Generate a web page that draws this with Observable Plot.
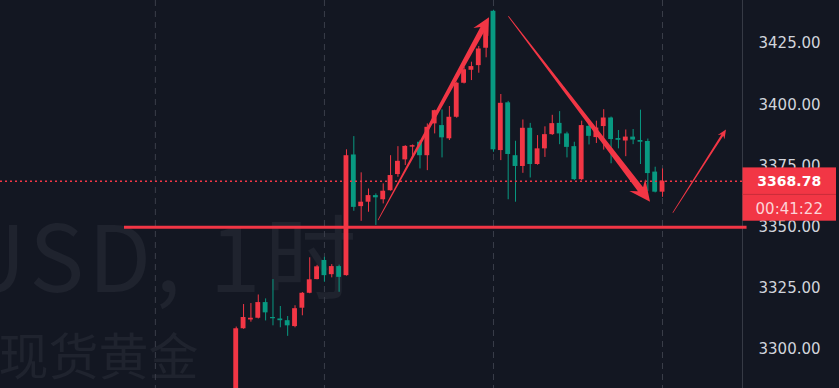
<!DOCTYPE html>
<html><head><meta charset="utf-8">
<script src="https://cdn.jsdelivr.net/npm/d3@7"></script>
<script src="https://cdn.jsdelivr.net/npm/@observablehq/plot@0.6"></script>
<style>
html,body{margin:0;padding:0;background:#131722;overflow:hidden;}
svg{display:block;}
</style></head><body><div id="chart"></div>
<script>
// ---- data (1h candles, index 0 = first visible candle) ----
const opens  = [3272,3308.5,3312.1,3312.8,3319.2,3313.1,3312.5,3311.8,3309.4,3316.9,3323.0,3328.6,3336.4,3330.6,3333.9,3330.2,3379.5,3358.4,3360.2,3362.9,3361.2,3364.9,3371.5,3377.5,3382.7,3384.7,3379.2,3392.2,3391.5,3386.1,3394.9,3408.8,3414.1,3416.0,3423.1,3438.2,3381.3,3400.8,3379.2,3374.8,3390.4,3375.6,3382.0,3387.8,3392.4,3388.1,3382.9,3369.4,3391.2,3386.6,3391.1,3394.6,3386.2,3385.2,3386.8,3385.4,3385.0,3372.5,3364.3];
const highs  = [3309.2,3318.4,3318.8,3322.3,3320.7,3328.6,3317.6,3313.5,3317.9,3323.3,3337.5,3334.4,3337.7,3334.7,3334.5,3381.6,3387.0,3372.2,3365.6,3363.6,3367.7,3379.2,3382.9,3383.3,3383.6,3385.4,3392.2,3397.8,3397.9,3399.3,3409.2,3415.3,3417.4,3423.8,3431.7,3438.6,3404.2,3401.4,3385.1,3393.8,3392.4,3387.4,3391.0,3395.7,3397.2,3388.8,3384.7,3393.3,3392.2,3393.3,3398.0,3395.0,3389.5,3389.7,3389.9,3397.8,3386.0,3374.5,3373.8];
const lows   = [3270,3308.3,3311.2,3312.5,3311.7,3309.7,3308.9,3305.4,3308.9,3313.8,3322.8,3328.5,3327.5,3329.3,3323.4,3330.0,3356.5,3352.4,3356.1,3350.7,3359.5,3364.7,3370.4,3375.2,3378.6,3373.8,3373.1,3388.1,3378.3,3385.4,3394.5,3408.5,3409.9,3412.9,3419.2,3380.6,3377.2,3361.2,3360.2,3372.0,3370.1,3375.3,3378.5,3387.5,3383.7,3378.3,3369.0,3369.0,3383.6,3384.2,3381.5,3375.9,3382.0,3378.8,3383.7,3375.6,3364.5,3364.0,3362.2];
const closes = [3308.5,3313.1,3312.8,3319.2,3315.0,3312.6,3311.8,3309.7,3316.7,3323.0,3328.5,3333.8,3330.2,3333.9,3329.5,3379.2,3358.1,3360.2,3362.9,3362.0,3364.7,3371.1,3376.9,3383.0,3383.3,3379.2,3390.8,3397.6,3386.5,3394.9,3408.8,3414.3,3415.6,3422.8,3431.0,3381.6,3400.6,3379.7,3374.8,3390.4,3375.6,3382.0,3387.8,3392.3,3388.1,3382.6,3369.4,3391.5,3387.1,3390.5,3394.6,3385.8,3385.5,3386.8,3385.6,3384.7,3371.9,3364.3,3368.78];
const yTicks = [3300, 3325, 3350, 3375, 3400, 3425];
const dayGridIndex = [-11, 12, 35, 58];
const supportLevel = 3350;
const supportSpan = [-15.2, 69.5];
const lastPrice = 3368.78;
const countdown = "00:41:22";
const watermarkSymbol = "XAUUSD, 1时";
const watermarkName = "现货黄金";
const arrowStarts = [[19.36, 3352.7], [37.09, 3436.0], [59.46, 3355.7]];
const arrowEnds   = [[34.46, 3435.6], [56.37, 3360.2], [66.7, 3389.7]];

// ---- build table ----
const candles = opens.map((o, i) => {
  const c = closes[i];
  let b1 = Math.min(o, c), b2 = Math.max(o, c);
  if (b2 - b1 < 0.45) { const m = (b1 + b2) / 2; b1 = m - 0.23; b2 = m + 0.23; }
  return {i, o, h: highs[i], l: lows[i], c, b1, b2, up: c >= o};
});
const UP = "#f23645", DOWN = "#089981", RED = "#f23645";
const xDomain = [-32.07, 68.88];

const chart = Plot.plot({
  width: 839, height: 388,
  marginLeft: 0, marginRight: 97, marginTop: 0, marginBottom: 0,
  style: {background: "#131722", color: "#d1d4dc", fontFamily: "'DejaVu Sans', sans-serif", fontSize: "15px", overflow: "visible"},
  x: {domain: xDomain, axis: null},
  y: {domain: [3284.1, 3442.6], axis: "right", ticks: yTicks, tickFormat: d => d.toFixed(2), tickSize: 0, tickPadding: 16, label: null},
  marks: [
    Plot.text([watermarkSymbol], {frameAnchor: "top-left", dx: 360, dy: 226, textAnchor: "end", fontSize: 92, fill: "#1f232e", fontFamily: "'Noto Sans CJK SC'"}),
    Plot.text([watermarkName], {frameAnchor: "top-left", dx: 198, dy: 339, textAnchor: "end", fontSize: 50, fill: "#1f232e", fontFamily: "'Noto Sans CJK SC'"}),
    Plot.ruleX(dayGridIndex, {stroke: "#3a3e4a", strokeWidth: 1, strokeDasharray: "6,5"}),
    Plot.ruleX([xDomain[1]], {stroke: "#363a45", strokeWidth: 1}),
    Plot.ruleX(candles, {x: "i", y1: "l", y2: "h", stroke: d => d.up ? UP : DOWN, strokeWidth: 1}),
    Plot.rect(candles, {x1: d => d.i - 0.33, x2: d => d.i + 0.33, y1: "b1", y2: "b2", fill: d => d.up ? UP : DOWN}),
    Plot.ruleY([lastPrice], {x1: xDomain[0], x2: xDomain[1], stroke: RED, strokeWidth: 1.5, strokeDasharray: "2,3"}),
    Plot.ruleY([supportLevel], {x1: supportSpan[0], x2: supportSpan[1], stroke: RED, strokeWidth: 3})
  ]
});

// letter spacing for the big watermark line
d3.select(chart).selectAll("text").filter(function(){ return this.textContent === watermarkSymbol; }).attr("letter-spacing", 4);

const sx = chart.scale("x"), sy = chart.scale("y");
const svg = d3.select(chart);
const arrowStyle = [
  {w0: 0.8, w1: 5.5, headLen: 17, headW: 17},
  {w0: 0.8, w1: 6.5, headLen: 21, headW: 20},
  {w0: 0.6, w1: 2.2, headLen: 9, headW: 8}
];
const g = svg.append("g").attr("aria-label", "arrows");
arrowStarts.forEach((s, k) => {
  const st = arrowStyle[k];
  const x1 = sx.apply(s[0]), y1 = sy.apply(s[1]);
  const x2 = sx.apply(arrowEnds[k][0]), y2 = sy.apply(arrowEnds[k][1]);
  const dx = x2 - x1, dy = y2 - y1, len = Math.hypot(dx, dy);
  const ux = dx / len, uy = dy / len, nx = -uy, ny = ux;
  const bx = x2 - ux * st.headLen, by = y2 - uy * st.headLen;
  const nb = st.headLen * 0.25;
  const pts = [
    [x1 + nx * st.w0 / 2, y1 + ny * st.w0 / 2],
    [bx + ux * nb + nx * st.w1 / 2, by + uy * nb + ny * st.w1 / 2],
    [bx + nx * st.headW / 2, by + ny * st.headW / 2],
    [x2, y2],
    [bx - nx * st.headW / 2, by - ny * st.headW / 2],
    [bx + ux * nb - nx * st.w1 / 2, by + uy * nb - ny * st.w1 / 2],
    [x1 - nx * st.w0 / 2, y1 - ny * st.w0 / 2]
  ];
  g.append("path").attr("d", "M" + pts.map(p => p.join(",")).join("L") + "Z").attr("fill", RED);
});

// last price label box
const py = sy.apply(lastPrice);
const bx0 = sx.apply(xDomain[1]) + 0.5;
const lg = svg.append("g").attr("aria-label", "price label");
lg.append("rect").attr("x", bx0).attr("y", py - 13.3).attr("width", 836 - bx0).attr("height", 53.3).attr("fill", RED);
lg.append("rect").attr("x", bx0).attr("y", py + 13.2).attr("width", 836 - bx0).attr("height", 1).attr("fill", "#c92d3a");
lg.append("text").attr("x", (bx0 + 836) / 2).attr("y", py).attr("dy", "0.36em").attr("text-anchor", "middle")
  .attr("fill", "#ffffff").attr("font-weight", "bold").attr("font-size", 14).attr("font-family", "'DejaVu Sans', sans-serif").text(lastPrice.toFixed(2));
lg.append("text").attr("x", (bx0 + 836) / 2).attr("y", py + 27.5).attr("dy", "0.36em").attr("text-anchor", "middle")
  .attr("fill", "#fcd3d7").attr("font-size", 15).attr("font-family", "'DejaVu Sans', sans-serif").text(countdown);

document.getElementById("chart").appendChild(chart);
</script></body></html>
